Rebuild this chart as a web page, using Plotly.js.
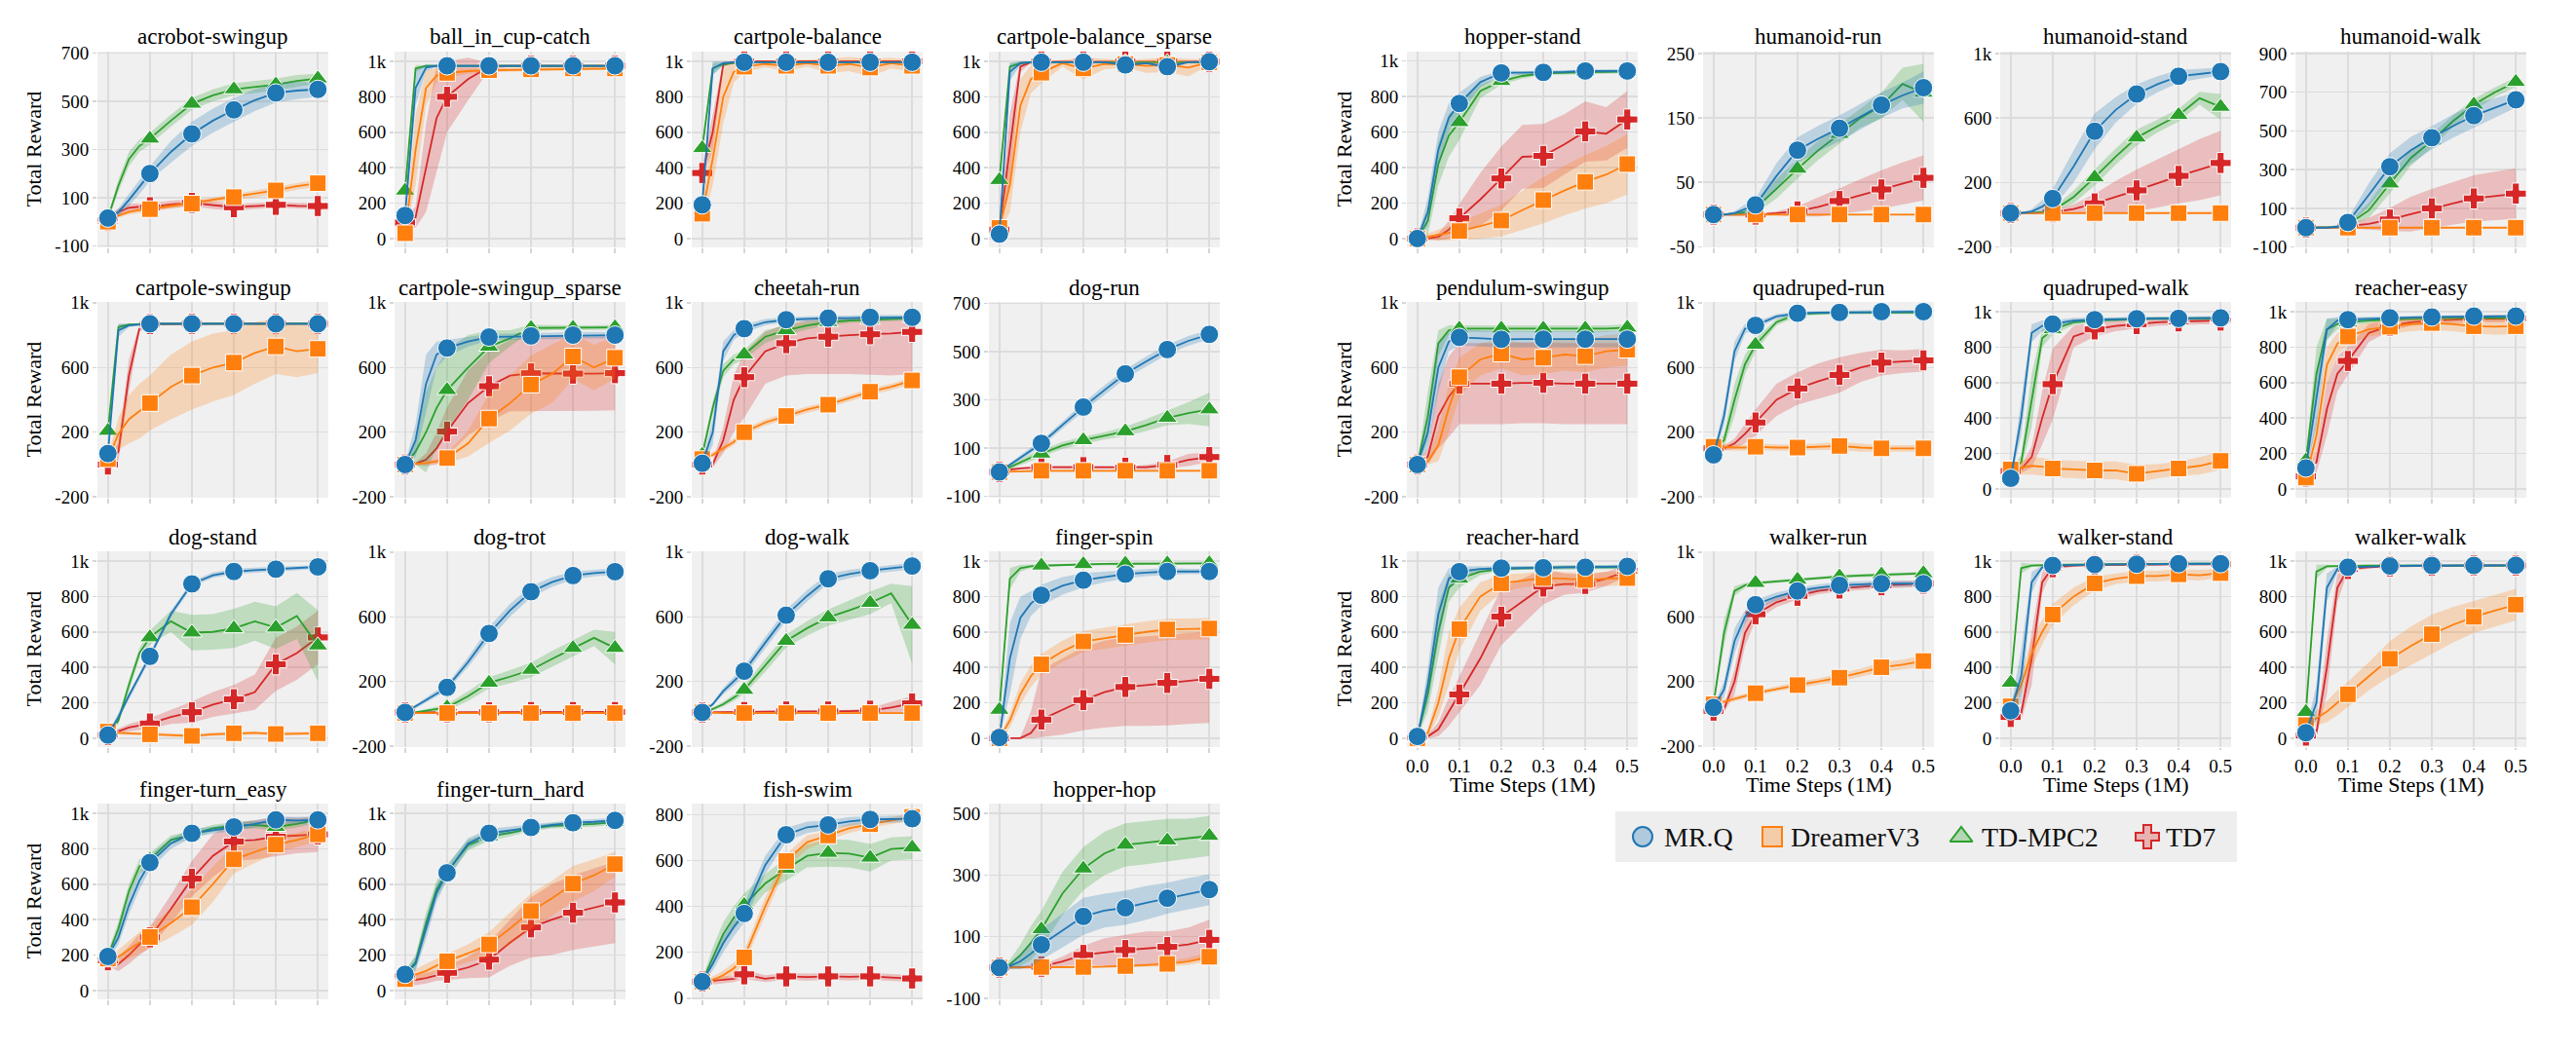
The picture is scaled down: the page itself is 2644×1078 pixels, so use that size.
<!DOCTYPE html>
<html><head><meta charset="utf-8">
<script src="https://cdn.plot.ly/plotly-3.0.1.min.js"></script>
<style>html,body{margin:0;padding:0;background:#fff;}#chart{width:2644px;height:1078px;}</style>
</head><body><div id="chart"></div>
<script>
// ---------- x grid (Time Steps, 1M) ----------
var X = [0, 0.025, 0.05, 0.075, 0.1, 0.15, 0.2, 0.25, 0.3, 0.35, 0.4, 0.45, 0.5];
var MARK_IDX = [0, 4, 6, 8, 10, 12];
var xTicks = [0, 0.1, 0.2, 0.3, 0.4, 0.5];
var xTickText = ['0.0', '0.1', '0.2', '0.3', '0.4', '0.5'];
var methodNames = ['MR.Q', 'DreamerV3', 'TD-MPC2', 'TD7'];

// ---------- y tick sets ----------
var ticks_0_1k = [0, 200, 400, 600, 800, 1000];
var ticks_m200_1k = [-200, 200, 600, 1000];
var ticks_m100_700 = [-100, 100, 300, 500, 700];
var ticks_0_800 = [0, 200, 400, 600, 800];
var ticks_m100_500 = [-100, 100, 300, 500];
var ticks_m50_250 = [-50, 50, 150, 250];
var ticks_m100_900 = [-100, 100, 300, 500, 700, 900];

// ---------- data: mean and band half-width ([down,up] where asymmetric) ----------
// acrobot-swingup
var acro_MRQ=[15,40,90,145,200,290,365,420,465,505,535,545,550];
var acro_MRQ_err=[10,15,25,30,30,45,50,50,50,45,40,35,30];
var acro_DV3=[0,25,40,48,52,65,75,88,102,115,130,148,160];
var acro_DV3_err=[5,8,10,10,10,10,10,10,12,15,15,15,15];
var acro_TDM=[15,150,260,315,345,420,490,525,550,560,570,585,595];
var acro_TDM_err=[10,25,30,25,25,25,25,25,25,25,25,25,20];
var acro_TD7=[5,40,58,62,60,72,78,68,60,65,70,66,65];
var acro_TD7_err=[10,15,15,15,15,15,15,15,15,12,12,12,12];
// ball_in_cup-catch
var cup_MRQ=[130,850,965,975,975,975,975,975,975,975,975,975,975];
var cup_MRQ_err=[40,100,20,8,5,5,5,5,5,5,5,5,5];
var cup_DV3=[30,500,850,920,935,945,950,952,955,958,960,960,960];
var cup_DV3_err=[20,200,100,40,25,15,12,10,10,10,10,10,10];
var cup_TDM=[270,960,975,975,975,975,975,975,975,975,975,975,975];
var cup_TDM_err=[40,20,5,5,5,5,5,5,5,5,5,5,5];
var cup_TD7=[90,120,400,680,800,900,970,975,975,975,975,975,975];
var cup_TD7_err=[30,60,250,300,200,120,20,5,5,5,5,5,5];
// cartpole-balance
var cpb_MRQ=[190,960,990,995,995,995,995,995,995,995,995,995,995];
var cpb_MRQ_err=[40,40,10,5,5,5,5,5,5,5,5,5,5];
var cpb_DV3=[140,450,800,940,970,985,975,990,975,985,965,990,975];
var cpb_DV3_err=[50,150,150,60,30,20,30,20,40,40,50,30,30];
var cpb_TDM=[510,960,985,990,995,995,995,995,995,995,995,995,995];
var cpb_TDM_err=[30,30,10,5,5,5,5,5,5,5,5,5,5];
var cpb_TD7=[370,600,980,998,1000,1000,1000,1000,1000,1000,1000,1000,1000];
var cpb_TD7_err=[30,100,20,3,2,2,2,2,2,2,2,2,2];
// cartpole-balance_sparse
var cpbs_MRQ=[25,940,990,995,995,995,995,995,980,990,970,995,998];
var cpbs_MRQ_err=[10,50,10,5,5,5,5,5,10,5,15,5,5];
var cpbs_DV3=[60,300,750,900,936,990,960,985,985,975,980,965,995];
var cpbs_DV3_err=[30,150,150,80,60,20,60,30,20,40,40,50,15];
var cpbs_TDM=[330,970,990,995,995,995,995,995,995,995,995,995,995];
var cpbs_TDM_err=[30,20,10,5,5,5,5,5,5,5,5,5,5];
var cpbs_TD7=[50,500,970,995,998,998,998,998,998,998,998,998,998];
var cpbs_TD7_err=[20,200,30,5,3,3,3,3,3,3,3,3,3];
// cartpole-swingup
var cps_MRQ=[68,830,860,865,870,870,870,870,870,870,870,870,870];
var cps_MRQ_err=[20,40,10,5,5,5,5,5,5,5,5,5,5];
var cps_DV3=[34,190,280,330,380,480,550,600,630,690,730,700,715];
var cps_DV3_err=[20,100,150,170,170,200,210,210,200,190,170,160,150];
var cps_TDM=[208,850,865,868,870,870,870,870,870,870,870,870,870];
var cps_TDM_err=[20,20,5,5,5,5,5,5,5,5,5,5,5];
var cps_TD7=[0,80,550,840,868,870,870,870,870,870,870,870,870];
var cps_TD7_err=[20,60,100,20,5,5,5,5,5,5,5,5,5];
// cartpole-swingup_sparse
var cpss_MRQ=[0,150,500,680,720,760,788,790,795,795,800,800,800];
var cpss_MRQ_err=[5,100,180,80,50,30,20,20,20,20,20,20,20];
var cpss_DV3=[0,3,10,20,40,130,284,380,494,560,668,600,660];
var cpss_DV3_err=[5,5,10,15,30,80,150,170,180,180,140,140,130];
var cpss_TDM=[0,80,200,350,460,600,728,780,844,845,845,845,848];
var cpss_TDM_err=[5,80,250,250,250,200,100,50,20,15,15,15,15];
var cpss_TD7=[0,5,30,100,204,380,484,550,564,562,562,562,565];
var cpss_TD7_err=[5,10,40,100,150,200,220,220,230,230,230,230,230];
// cheetah-run
var chee_MRQ=[8,200,700,800,840,880,895,900,905,905,910,910,910];
var chee_MRQ_err=[20,80,60,30,25,20,15,15,15,15,15,15,15];
var chee_DV3=[34,60,100,140,200,260,300,340,370,410,450,480,520];
var chee_DV3_err=[10,15,20,20,20,20,20,20,20,20,20,20,20];
var chee_TDM=[60,350,580,650,680,790,830,860,880,890,895,900,905];
var chee_TDM_err=[20,40,40,30,30,40,30,25,20,15,15,15,15];
var chee_TD7=[0,0,150,400,540,700,750,780,790,800,805,810,820];
var chee_TD7_err=[[10,10],[20,20],[80,80],[200,150],[250,150],[200,120],[200,120],[220,110],[230,110],[240,100],[250,100],[260,90],[260,80]];
// dog-run
var drun_MRQ=[0,30,60,90,119,195,270,340,408,460,509,545,572];
var drun_MRQ_err=[5,8,10,12,12,15,18,20,20,20,20,20,20];
var drun_DV3=[0,2,3,4,5,5,5,5,5,5,5,5,5];
var drun_DV3_err=[3,3,3,3,3,3,3,3,3,3,3,3,3];
var drun_TDM=[0,20,40,60,76,110,132,150,169,195,225,245,260];
var drun_TDM_err=[5,8,10,15,15,15,15,15,20,25,30,45,70];
var drun_TD7=[0,10,15,18,20,20,20,18,18,20,29,50,62];
var drun_TD7_err=[5,5,5,5,5,5,5,5,5,10,15,25,20];
// dog-stand
var dstand_MRQ=[18,120,240,350,462,700,871,920,941,948,954,960,967];
var dstand_MRQ_err=[10,20,20,20,20,20,15,15,15,15,12,12,10];
var dstand_DV3=[37,30,28,26,22,18,13,22,28,30,24,26,28];
var dstand_DV3_err=[5,10,10,10,10,10,10,10,10,10,10,10,10];
var dstand_TDM=[18,100,300,480,569,660,596,600,620,660,624,690,523];
var dstand_TDM_err=[10,20,30,30,40,60,100,100,110,110,120,130,200];
var dstand_TD7=[18,40,60,72,83,120,147,190,220,260,417,480,569];
var dstand_TD7_err=[10,15,20,25,30,40,60,70,80,100,150,150,150];
// dog-trot
var dtrot_MRQ=[9,45,85,125,164,320,497,640,755,815,855,870,879];
var dtrot_MRQ_err=[5,10,15,20,20,30,40,40,35,30,25,20,20];
var dtrot_DV3=[5,5,5,5,5,5,5,5,5,5,5,5,5];
var dtrot_DV3_err=[5,5,5,5,5,5,5,5,5,5,5,5,5];
var dtrot_TDM=[9,10,20,30,40,110,192,230,272,340,407,470,407];
var dtrot_TDM_err=[5,5,10,15,20,30,35,40,45,50,50,50,100];
var dtrot_TD7=[9,9,10,10,10,10,10,10,12,12,12,12,12];
var dtrot_TD7_err=[5,5,5,5,5,5,5,5,5,5,5,5,5];
// dog-walk
var dwalk_MRQ=[9,60,140,200,264,440,610,730,835,865,885,900,914];
var dwalk_MRQ_err=[5,10,20,25,30,35,35,35,30,25,20,20,20];
var dwalk_DV3=[9,5,5,5,5,5,5,5,5,5,5,5,5];
var dwalk_DV3_err=[5,5,5,5,5,5,5,5,5,5,5,5,5];
var dwalk_TDM=[9,30,60,100,148,300,451,530,596,640,686,745,550];
var dwalk_TDM_err=[5,10,15,20,25,40,40,45,50,60,70,60,240];
var dwalk_TD7=[9,10,12,12,12,13,15,15,15,17,20,40,65];
var dwalk_TD7_err=[5,5,5,5,5,5,5,5,5,8,15,35,45];
// finger-spin
var fspin_MRQ=[4,450,680,760,807,860,892,910,926,935,941,941,941];
var fspin_MRQ_err=[5,200,120,70,60,50,40,30,25,20,20,15,15];
var fspin_DV3=[0,100,250,350,417,490,546,565,583,600,614,617,619];
var fspin_DV3_err=[5,40,60,60,60,60,60,60,60,60,60,60,60];
var fspin_TDM=[160,900,960,970,974,978,982,984,985,985,986,986,987];
var fspin_TDM_err=[20,60,20,10,8,5,5,5,5,5,5,5,5];
var fspin_TD7=[0,0,0,30,105,160,215,260,289,300,312,325,335];
var fspin_TD7_err=[[0,0],[0,0],[0,5],[30,120],[100,280],[140,290],[170,300],[200,290],[220,280],[230,275],[240,270],[245,268],[249,266]];
// finger-turn_easy
var fte_MRQ=[192,300,480,620,722,830,887,905,923,940,963,960,963];
var fte_MRQ_err=[20,40,50,50,40,30,25,20,20,20,20,20,20];
var fte_DV3=[180,190,230,270,302,380,470,600,740,780,823,850,881];
var fte_DV3_err=[30,40,50,60,60,80,100,100,80,60,50,40,40];
var fte_TDM=[195,350,560,700,740,850,880,915,930,935,923,940,965];
var fte_TDM_err=[20,40,40,40,35,25,20,20,20,20,20,20,20];
var fte_TD7=[170,150,200,260,300,460,631,760,841,850,868,875,881];
var fte_TD7_err=[30,40,50,60,60,80,100,120,110,110,110,100,100];
// finger-turn_hard
var fth_MRQ=[91,150,350,550,664,830,887,905,920,935,947,952,960];
var fth_MRQ_err=[20,40,60,50,40,30,25,20,15,15,15,15,15];
var fth_DV3=[64,90,110,140,165,210,260,350,448,520,603,650,713];
var fth_DV3_err=[20,30,40,40,40,50,70,90,100,100,100,90,70];
var fth_TDM=[91,160,380,570,670,820,870,890,915,930,935,940,950];
var fth_TDM_err=[20,40,60,50,40,30,25,20,15,15,15,15,15];
var fth_TD7=[80,60,70,85,100,130,174,270,356,400,439,470,497];
var fth_TD7_err=[30,30,30,30,40,60,100,130,170,200,210,220,230];
// fish-swim
var fish_MRQ=[72,150,240,310,369,580,712,745,755,770,779,780,782];
var fish_MRQ_err=[10,30,40,40,40,40,30,25,20,20,15,15,15];
var fish_DV3=[72,80,100,130,178,400,598,680,709,740,758,775,790];
var fish_DV3_err=[10,15,20,25,30,40,30,30,20,20,15,15,15];
var fish_TDM=[72,180,280,350,406,500,563,620,633,630,612,650,656];
var fish_TDM_err=[10,40,50,50,50,40,50,50,60,60,60,50,50];
var fish_TD7=[72,75,80,85,104,85,95,92,95,93,95,90,86];
var fish_TD7_err=[10,15,15,15,20,15,15,15,15,15,15,15,15];
// hopper-hop
var hhop_MRQ=[0,5,20,45,74,120,166,185,194,210,225,240,253];
var hhop_MRQ_err=[5,10,25,40,50,55,60,55,55,55,50,50,50];
var hhop_DV3=[0,0,0,0,2,2,2,3,5,8,12,20,35];
var hhop_DV3_err=[3,3,3,3,3,3,3,3,5,5,8,12,15];
var hhop_TDM=[0,10,40,80,124,240,321,370,398,405,412,418,427];
var hhop_TDM_err=[5,15,35,55,60,70,70,70,70,70,70,65,65];
var hhop_TD7=[0,0,0,2,3,20,41,50,57,62,67,75,90];
var hhop_TD7_err=[3,3,3,5,5,15,30,45,50,55,50,55,65];
// hopper-stand
var hstand_MRQ=[0,150,500,680,760,880,932,933,935,938,943,943,943];
var hstand_MRQ_err=[5,80,100,80,60,30,15,10,10,10,10,10,10];
var hstand_DV3=[0,10,20,30,42,70,101,160,216,270,319,360,419];
var hstand_DV3_err=[3,20,30,40,50,70,90,110,130,140,150,160,170];
var hstand_TDM=[0,100,420,580,655,830,886,915,930,935,937,938,940];
var hstand_TDM_err=[5,80,120,120,100,40,20,15,10,10,10,10,10];
var hstand_TD7=[0,0,10,50,114,220,338,460,465,530,603,590,670];
var hstand_TD7_err=[3,3,20,50,80,150,180,180,180,170,170,150,160];
// humanoid-run
var hrun_MRQ=[0,0,2,8,15,60,100,118,134,152,170,185,197];
var hrun_MRQ_err=[1,1,3,8,10,20,20,20,20,20,20,20,25];
var hrun_DV3=[0,0,0,0,0,0,0,0,0,0,0,0,0];
var hrun_DV3_err=[1,1,1,1,1,1,1,1,1,1,1,1,1];
var hrun_TDM=[0,0,1,4,10,40,71,100,125,150,169,203,189];
var hrun_TDM_err=[1,1,3,5,8,15,15,15,15,15,20,25,45];
var hrun_TD7=[0,0,0,0,0,2,5,12,21,30,39,48,57];
var hrun_TD7_err=[1,1,1,1,1,3,8,15,20,25,30,33,35];
// humanoid-stand
var hust_MRQ=[10,10,20,50,100,300,518,650,749,810,859,875,888];
var hust_MRQ_err=[3,3,15,40,60,100,110,80,60,50,40,30,25];
var hust_DV3=[10,10,10,10,10,10,10,10,10,10,10,10,10];
var hust_DV3_err=[5,5,5,5,5,5,5,5,5,5,5,5,5];
var hust_TDM=[10,10,12,15,25,110,231,360,478,550,618,723,669];
var hust_TDM_err=[3,3,5,10,15,40,50,50,50,40,40,40,80];
var hust_TD7=[10,10,10,12,15,35,70,110,151,195,241,280,321];
var hust_TD7_err=[3,3,3,5,10,30,60,100,130,150,170,190,200];
// humanoid-walk
var huwk_MRQ=[0,0,0,5,27,170,315,400,465,525,579,620,661];
var huwk_MRQ_err=[3,3,3,10,20,60,70,70,60,60,60,50,40];
var huwk_DV3=[0,0,0,0,0,0,0,0,0,0,0,0,0];
var huwk_DV3_err=[3,3,3,3,3,3,3,3,3,3,3,3,3];
var huwk_TDM=[0,0,0,3,15,90,228,360,450,550,636,700,753];
var huwk_TDM_err=[3,3,3,5,10,40,50,40,35,30,30,25,25];
var huwk_TD7=[0,0,0,2,8,20,42,70,100,125,151,165,176];
var huwk_TD7_err=[3,3,3,5,10,30,60,90,100,110,120,125,130];
// pendulum-swingup
var pend_MRQ=[0,200,600,760,786,780,774,775,775,775,775,775,775];
var pend_MRQ_err=[10,100,150,60,50,50,50,50,50,50,50,50,50];
var pend_DV3=[0,20,120,350,540,650,686,650,660,680,670,700,710];
var pend_DV3_err=[10,20,100,150,120,100,90,100,100,100,100,100,100];
var pend_TDM=[0,300,750,830,840,840,840,840,840,840,840,840,846];
var pend_TDM_err=[10,150,80,30,20,20,20,20,20,20,20,20,20];
var pend_TD7=[0,50,300,420,500,500,500,505,505,500,500,500,500];
var pend_TD7_err=[10,50,200,250,250,250,250,250,250,250,250,250,250];
// quadruped-run
var qrun_MRQ=[60,300,700,840,860,915,935,940,940,942,945,945,945];
var qrun_MRQ_err=[10,60,60,30,20,15,12,10,10,10,10,10,10];
var qrun_DV3=[110,110,105,105,110,105,105,110,115,105,100,100,100];
var qrun_DV3_err=[10,20,20,20,20,20,20,20,25,25,20,20,20];
var qrun_TDM=[100,150,400,620,740,880,930,935,940,940,940,940,940];
var qrun_TDM_err=[10,40,100,60,40,20,15,10,10,10,10,10,10];
var qrun_TD7=[100,100,130,190,260,400,470,515,554,600,630,635,644];
var qrun_TD7_err=[10,15,30,60,80,100,100,110,110,90,80,70,70];
// quadruped-walk
var qwalk_MRQ=[60,400,880,920,930,950,955,958,960,962,962,965,965];
var qwalk_MRQ_err=[10,100,50,30,20,15,12,10,10,10,10,10,10];
var qwalk_DV3=[110,120,130,125,115,110,104,105,85,100,115,130,158];
var qwalk_DV3_err=[20,40,50,50,50,50,50,50,50,40,40,50,50];
var qwalk_TDM=[100,150,500,850,900,940,950,955,960,962,962,962,962];
var qwalk_TDM_err=[10,40,150,50,30,15,10,10,10,10,10,10,10];
var qwalk_TD7=[100,110,180,400,591,860,900,920,930,940,945,948,950];
var qwalk_TD7_err=[10,20,60,150,200,60,40,30,25,20,20,20,20];
// reacher-easy
var reasy_MRQ=[118,500,900,950,955,960,965,968,970,972,975,975,975];
var reasy_MRQ_err=[20,150,60,20,15,12,10,10,10,10,10,10,10];
var reasy_DV3=[64,300,700,820,860,900,915,930,936,930,918,915,918];
var reasy_DV3_err=[15,100,100,60,50,40,40,40,40,40,40,45,45];
var reasy_TDM=[160,650,900,930,940,950,955,960,962,965,965,965,965];
var reasy_TDM_err=[20,150,60,30,20,15,10,10,10,10,10,10,10];
var reasy_TD7=[70,150,450,650,722,880,920,940,950,955,960,960,960];
var reasy_TD7_err=[15,60,150,100,80,50,30,20,20,20,20,20,20];
// reacher-hard
var rhard_MRQ=[10,300,700,900,940,955,960,960,962,965,965,968,970];
var rhard_MRQ_err=[5,100,150,60,30,15,10,10,10,10,10,10,10];
var rhard_DV3=[0,30,200,450,616,800,874,890,904,900,893,900,904];
var rhard_DV3_err=[5,20,80,150,120,80,50,40,40,40,40,40,40];
var rhard_TDM=[10,250,600,850,900,940,955,960,962,965,965,965,965];
var rhard_TDM_err=[5,100,150,80,50,20,10,10,10,10,10,10,10];
var rhard_TD7=[0,10,50,150,247,450,686,770,856,870,871,900,945];
var rhard_TD7_err=[5,10,40,80,100,150,160,130,100,60,50,40,30];
// walker-run
var wrun_MRQ=[40,150,450,600,675,725,760,780,795,800,805,805,805];
var wrun_MRQ_err=[10,50,80,40,30,25,20,20,20,20,20,20,15];
var wrun_DV3=[59,75,95,110,128,155,178,200,224,255,288,305,327];
var wrun_DV3_err=[10,15,15,15,15,15,20,20,25,25,30,30,35];
var wrun_TDM=[60,500,760,795,809,820,829,840,849,855,861,865,869];
var wrun_TDM_err=[10,80,30,15,10,10,10,10,10,10,10,10,10];
var wrun_TD7=[20,30,200,500,616,690,730,760,775,785,795,800,805];
var wrun_TD7_err=[10,20,80,80,40,30,25,20,20,20,20,20,20];
// walker-stand
var wstand_MRQ=[155,350,880,965,975,978,980,982,982,984,985,985,985];
var wstand_MRQ_err=[20,150,60,10,8,5,5,5,5,5,5,5,5];
var wstand_DV3=[180,300,480,600,698,800,874,900,915,915,925,920,932];
var wstand_DV3_err=[15,60,80,70,60,50,40,30,30,30,30,30,25];
var wstand_TDM=[313,960,975,978,978,980,980,982,982,984,985,985,985];
var wstand_TDM_err=[20,30,10,5,5,5,5,5,5,5,5,5,5];
var wstand_TD7=[120,140,450,880,965,975,978,980,980,982,982,982,982];
var wstand_TD7_err=[20,40,150,60,15,8,5,5,5,5,5,5,5];
// walker-walk
var wwalk_MRQ=[31,200,850,955,965,970,972,974,975,975,975,976,976];
var wwalk_MRQ_err=[10,100,80,15,8,5,5,5,5,5,5,5,5];
var wwalk_DV3=[74,110,150,200,248,350,448,520,587,640,685,720,754];
var wwalk_DV3_err=[20,40,60,70,70,80,100,110,110,100,90,90,90];
var wwalk_TDM=[148,940,970,972,975,975,975,975,975,975,975,975,975];
var wwalk_TDM_err=[20,40,10,5,5,5,5,5,5,5,5,5,5];
var wwalk_TD7=[15,30,400,850,955,965,970,972,973,974,975,975,975];
var wwalk_TD7_err=[10,20,150,80,15,8,5,5,5,5,5,5,5];

// ---------- subplot table ----------
var tasks = [
  ['acrobot-swingup','acro',ticks_m100_700,[-107,707],0,0,0],
  ['ball_in_cup-catch','cup',ticks_0_1k,[-50,1055],0,0,1],
  ['cartpole-balance','cpb',ticks_0_1k,[-50,1055],0,0,2],
  ['cartpole-balance_sparse','cpbs',ticks_0_1k,[-50,1055],0,0,3],
  ['cartpole-swingup','cps',ticks_m200_1k,[-205,1005],0,1,0],
  ['cartpole-swingup_sparse','cpss',ticks_m200_1k,[-205,1005],0,1,1],
  ['cheetah-run','chee',ticks_m200_1k,[-205,1005],0,1,2],
  ['dog-run','drun',ticks_m100_700,[-107,707],0,1,3],
  ['dog-stand','dstand',ticks_0_1k,[-50,1055],0,2,0],
  ['dog-trot','dtrot',ticks_m200_1k,[-205,1005],0,2,1],
  ['dog-walk','dwalk',ticks_m200_1k,[-205,1005],0,2,2],
  ['finger-spin','fspin',ticks_0_1k,[-50,1055],0,2,3],
  ['finger-turn_easy','fte',ticks_0_1k,[-50,1055],0,3,0],
  ['finger-turn_hard','fth',ticks_0_1k,[-50,1055],0,3,1],
  ['fish-swim','fish',ticks_0_800,[-5,848],0,3,2],
  ['hopper-hop','hhop',ticks_m100_500,[-103,532],0,3,3],
  ['hopper-stand','hstand',ticks_0_1k,[-50,1052],1,0,0],
  ['humanoid-run','hrun',ticks_m50_250,[-51,253],1,0,1],
  ['humanoid-stand','hust',ticks_m200_1k,[-203,1012],1,0,2],
  ['humanoid-walk','huwk',ticks_m100_900,[-102,910],1,0,3],
  ['pendulum-swingup','pend',ticks_m200_1k,[-205,1005],1,1,0],
  ['quadruped-run','qrun',ticks_m200_1k,[-205,1005],1,1,1],
  ['quadruped-walk','qwalk',ticks_0_1k,[-50,1055],1,1,2],
  ['reacher-easy','reasy',ticks_0_1k,[-50,1055],1,1,3],
  ['reacher-hard','rhard',ticks_0_1k,[-50,1055],1,2,0],
  ['walker-run','wrun',ticks_m200_1k,[-205,1005],1,2,1],
  ['walker-stand','wstand',ticks_0_1k,[-50,1055],1,2,2],
  ['walker-walk','wwalk',ticks_0_1k,[-50,1055],1,2,3]
];

// ---------- styling / layout ----------
var W = 2644, H = 1078;
var FONT = 'Liberation Serif, Times New Roman, serif';
var suffix = ['MRQ', 'DV3', 'TDM', 'TD7'];
var colors = ['#1f77b4', '#ff7f0e', '#2ca02c', '#d62728'];
var fills = ['rgba(31,119,180,0.25)', 'rgba(255,127,14,0.25)', 'rgba(44,160,44,0.25)', 'rgba(214,39,40,0.25)'];
var legFills = ['rgba(31,119,180,0.3)', 'rgba(255,127,14,0.3)', 'rgba(44,160,44,0.3)', 'rgba(214,39,40,0.3)'];
var symbols = ['circle', 'square', 'triangle-up', 'cross'];
var msize = [19, 17, 18, 18];
var drawOrder = [3, 2, 1, 0];
var colLeft = [[100, 405, 710, 1015], [1444, 1748, 2053, 2356]];
var plotW = 237, plotH = 201;
var rowTop = [53, 310, 566, 825];
var yLabelX = [34, 1379];
var bottomRow = [3, 2];

var traces = [], layout = {
  width: W, height: H, margin: {l: 0, r: 0, t: 0, b: 0},
  paper_bgcolor: '#ffffff', plot_bgcolor: '#f0f0f0',
  font: {family: FONT, color: '#000'}, hovermode: false,
  annotations: [], showlegend: false
};

function pickErr(v, k) { return Array.isArray(v) ? v[k] : v; }

tasks.forEach(function (t, idx) {
  var n = idx + 1, title = t[0], key = t[1], ticks = t[2], yr = t[3], panel = t[4], row = t[5], col = t[6];
  var left = colLeft[panel][col], top = rowTop[row];
  var xa = 'xaxis' + (n > 1 ? n : ''), ya = 'yaxis' + (n > 1 ? n : '');
  var isBottom = (panel === 1 && row === bottomRow[1]);
  layout[xa] = {
    domain: [left / W, (left + plotW) / W], range: [-0.025, 0.525], anchor: 'y' + n,
    tickvals: xTicks, ticktext: xTickText, showticklabels: isBottom,
    tickfont: {family: FONT, size: 19, color: '#000'},
    ticks: 'outside', ticklen: isBottom ? 2 : 5, tickcolor: '#d6d6d6', tickwidth: 1.5,
    showgrid: true, gridcolor: '#dcdcdc', gridwidth: 1.5, zeroline: false, showline: false, fixedrange: true
  };
  layout[ya] = {
    domain: [1 - (top + plotH) / H, 1 - top / H], range: yr, anchor: 'x' + n,
    tickvals: ticks, ticktext: ticks.map(function (v) { return v === 1000 ? '1k' : String(v); }),
    tickfont: {family: FONT, size: 19, color: '#000'},
    ticks: 'outside', ticklen: 4, tickcolor: '#d6d6d6', tickwidth: 1.5,
    showgrid: true, gridcolor: '#dcdcdc', gridwidth: 1.5, zeroline: false, showline: false, fixedrange: true
  };
  layout.annotations.push({text: title, xref: 'paper', yref: 'paper', x: (left + plotW / 2) / W, y: 1 - (top - 15) / H,
    xanchor: 'center', yanchor: 'middle', showarrow: false, font: {family: FONT, size: 23, color: '#000'}});
  if (col === 0) {
    layout.annotations.push({text: 'Total Reward', xref: 'paper', yref: 'paper', x: yLabelX[panel] / W,
      y: 1 - (top + plotH / 2) / H, textangle: -90, xanchor: 'center', yanchor: 'middle', showarrow: false,
      font: {family: FONT, size: 22, color: '#000'}});
  }
  if (isBottom) {
    layout.annotations.push({text: 'Time Steps (1M)', xref: 'paper', yref: 'paper', x: (left + plotW / 2) / W,
      y: 1 - 805 / H, xanchor: 'center', yanchor: 'middle', showarrow: false, font: {family: FONT, size: 22, color: '#000'}});
  }
  drawOrder.forEach(function (s) {
    var m = window[key + '_' + suffix[s]], e = window[key + '_' + suffix[s] + '_err'];
    var up = m.map(function (v, i) { return v + pickErr(e[i], 1); });
    var dn = m.map(function (v, i) { return v - pickErr(e[i], 0); });
    traces.push({type: 'scatter', mode: 'lines', x: X.concat(X.slice().reverse()), y: up.concat(dn.slice().reverse()),
      xaxis: 'x' + n, yaxis: 'y' + n, fill: 'toself', fillcolor: fills[s], line: {width: 0, color: 'rgba(0,0,0,0)'},
      showlegend: false, hoverinfo: 'skip'});
    traces.push({type: 'scatter', mode: 'lines', x: X, y: m, xaxis: 'x' + n, yaxis: 'y' + n,
      line: {color: colors[s], width: 1.8}, showlegend: false, hoverinfo: 'skip'});
    traces.push({type: 'scatter', mode: 'markers', x: MARK_IDX.map(function (i) { return X[i]; }),
      y: MARK_IDX.map(function (i) { return m[i]; }), xaxis: 'x' + n, yaxis: 'y' + n,
      marker: {symbol: symbols[s], size: msize[s], color: colors[s], line: {color: '#ffffff', width: 1}},
      showlegend: false, hoverinfo: 'skip'});
  });
});

// ---------- manual legend box (its own hidden axis, in pixel units) ----------
var LEG = {left: 1658, top: 833, w: 638, h: 52};
var legSymX = [28, 161, 355, 546];
var legTextX = [48, 178, 374, 563];
var nL = tasks.length + 1;
layout['xaxis' + nL] = {domain: [LEG.left / W, (LEG.left + LEG.w) / W], range: [0, LEG.w], visible: false, fixedrange: true, anchor: 'y' + nL};
layout['yaxis' + nL] = {domain: [1 - (LEG.top + LEG.h) / H, 1 - LEG.top / H], range: [0, LEG.h], visible: false, fixedrange: true, anchor: 'x' + nL};
layout.shapes = [{type: 'rect', xref: 'x' + nL, yref: 'y' + nL, x0: 0, x1: LEG.w, y0: 0, y1: LEG.h,
  fillcolor: '#eeeeee', line: {width: 0}, layer: 'below'}];
[0, 1, 2, 3].forEach(function (s) {
  traces.push({type: 'scatter', mode: 'markers', x: [legSymX[s]], y: [LEG.h / 2], xaxis: 'x' + nL, yaxis: 'y' + nL,
    showlegend: false, hoverinfo: 'skip',
    marker: {symbol: symbols[s], size: 20, color: legFills[s], line: {color: colors[s], width: 2}}});
  layout.annotations.push({text: methodNames[s], xref: 'x' + nL, yref: 'y' + nL, x: legTextX[s], y: LEG.h / 2,
    xanchor: 'left', yanchor: 'middle', showarrow: false, font: {family: FONT, size: 28, color: '#111'}});
});

Plotly.newPlot('chart', traces, layout, {staticPlot: true, displayModeBar: false});
</script>
</body></html>
